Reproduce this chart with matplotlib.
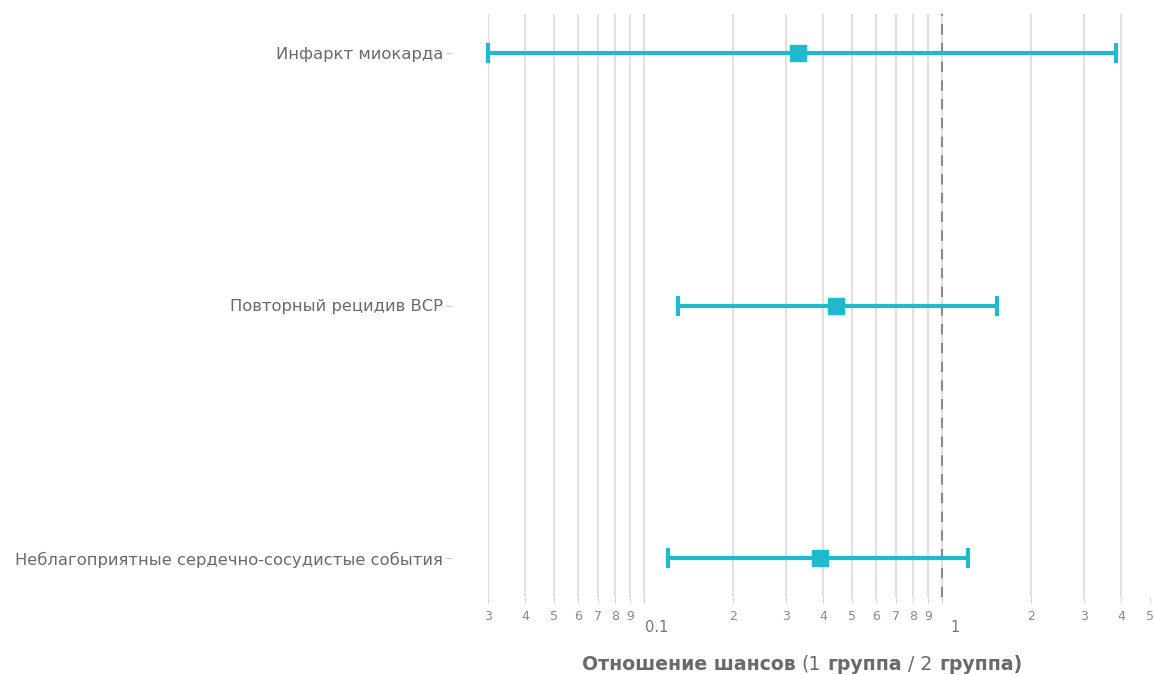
import matplotlib
matplotlib.use('Agg')
import matplotlib.pyplot as plt
import matplotlib.transforms as mtransforms
from matplotlib.offsetbox import TextArea, HPacker, AnnotationBbox

plt.rcParams['font.family'] = ['DejaVu Sans']

categories = ['Инфаркт миокарда', 'Повторный рецидив ВСР',
              'Неблагоприятные сердечно-сосудистые события']
odds_ratio = [0.33, 0.44, 0.39]
ci_low = [0.03, 0.13, 0.121]
ci_high = [3.83, 1.53, 1.225]

minor_ticks = [0.03, 0.04, 0.05, 0.06, 0.07, 0.08, 0.09,
               0.2, 0.3, 0.4, 0.5, 0.6, 0.7, 0.8, 0.9,
               2, 3, 4, 5]
minor_labels = ['3', '4', '5', '6', '7', '8', '9',
                '2', '3', '4', '5', '6', '7', '8', '9',
                '2', '3', '4', '5']
major_ticks = [0.1, 1]
major_labels = ['0.1', '1']
x_limits = (0.03, 5)

COLOR = '#20B9CE'
TEXT = '#6a6a6a'

W, H = 1154, 675
fig = plt.figure(figsize=(W / 100, H / 100), dpi=100)
ax = fig.add_axes([488 / W, 1 - 597 / H, (1150 - 488) / W, (597 - 14) / H])
ax.set_xscale('log')
ax.set_xlim(*x_limits)
ax.set_ylim(2.154, -0.154)

# grid lines
for t in minor_ticks + major_ticks:
    if x_limits[0] <= t < x_limits[1]:
        ax.axvline(t, color='#dddddd', lw=1.3, zorder=0)

ax.axvline(1, color='#8a8a8a', lw=1.5, ls=(0, (5, 4)), zorder=1)

ypos = list(range(len(categories)))
xerr = [[o - l for o, l in zip(odds_ratio, ci_low)],
        [h - o for o, h in zip(odds_ratio, ci_high)]]
eb = ax.errorbar(odds_ratio, ypos, xerr=xerr, fmt='s', color=COLOR, ms=12,
                 elinewidth=3, capsize=7.3, capthick=3, zorder=3, clip_on=False)
for art in eb.lines[1] + eb.lines[2]:
    art.set_clip_on(False)

for s in ax.spines.values():
    s.set_visible(False)
ax.spines['left'].set_position(('outward', 26))

ax.set_yticks(ypos)
ax.set_yticklabels(categories)
ax.tick_params(axis='y', length=4.3, color='#cccccc', labelcolor=TEXT,
               labelsize=11.8, pad=2)

ax.set_xticks(minor_ticks, minor=True)
ax.set_xticklabels(minor_labels, minor=True)
ax.set_xticks(major_ticks)
ax.set_xticklabels(['' for _ in major_labels])
ax.tick_params(axis='x', which='both', length=4.3, color='#cccccc',
               labelcolor='#8a8a8a', labelsize=9, pad=5)

offset = mtransforms.ScaledTranslation(13 / 100, 0, fig.dpi_scale_trans)
trans = mtransforms.blended_transform_factory(ax.transData, ax.transAxes) + offset
for t, lab in zip(major_ticks, major_labels):
    ax.text(t, -31 / 583, lab, transform=trans, ha='center', va='center',
            fontsize=10.5, color='#777777')

# axis title with mixed weights
parts = [('Отношение шансов', 'bold'), ('(1', 'normal'), ('группа', 'bold'),
         ('/ 2', 'normal'), ('группа)', 'bold')]
areas = [TextArea(txt, textprops=dict(fontsize=13.6, fontweight=w, color=TEXT))
         for txt, w in parts]
pack = HPacker(children=areas, align='baseline', pad=0, sep=4.5)
ab = AnnotationBbox(pack, (802 / W, 1 - 664 / H), xycoords='figure fraction',
                    frameon=False, box_alignment=(0.5, 0.5))
fig.add_artist(ab)

fig.savefig('out.png', dpi=100)
